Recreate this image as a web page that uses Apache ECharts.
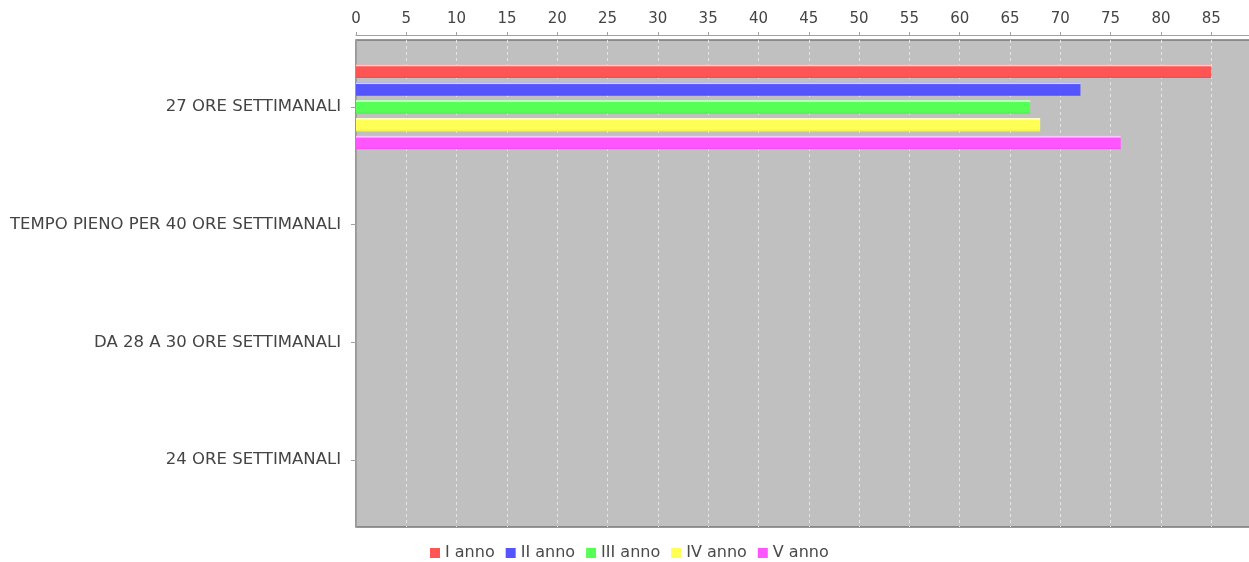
<!DOCTYPE html>
<html>
<head>
<meta charset="utf-8">
<script src="https://cdn.jsdelivr.net/npm/echarts@6/dist/echarts.min.js"></script>
<style>
  html, body { margin: 0; padding: 0; background: #ffffff; }
  #chart { width: 1249px; height: 562px; }
</style>
</head>
<body>
<div id="chart"></div>
<script>
// Categories (top to bottom) and values per school year
const categories = [
  '27 ORE SETTIMANALI',
  'TEMPO PIENO PER 40 ORE SETTIMANALI',
  'DA 28 A 30 ORE SETTIMANALI',
  '24 ORE SETTIMANALI'
];
const seriesNames = ['I anno', 'II anno', 'III anno', 'IV anno', 'V anno'];
const annoI   = [85, 0, 0, 0];
const annoII  = [72, 0, 0, 0];
const annoIII = [67, 0, 0, 0];
const annoIV  = [68, 0, 0, 0];
const annoV   = [76, 0, 0, 0];
const seriesValues = [annoI, annoII, annoIII, annoIV, annoV];
const colors = ['#ff5555', '#5555ff', '#55ff55', '#ffff55', '#ff55ff'];

const axisMax = 89.25;
const fontFamily = 'DejaVu Sans';

function lighten(hex, t) {
  const n = parseInt(hex.slice(1), 16);
  const r = (n >> 16) & 255, g = (n >> 8) & 255, b = n & 255;
  const f = c => Math.round(c + (255 - c) * t);
  return 'rgb(' + f(r) + ',' + f(g) + ',' + f(b) + ')';
}
function darken(hex, t) {
  const n = parseInt(hex.slice(1), 16);
  const r = (n >> 16) & 255, g = (n >> 8) & 255, b = n & 255;
  const f = c => Math.round(c * (1 - t));
  return 'rgb(' + f(r) + ',' + f(g) + ',' + f(b) + ')';
}
// vertical shading: pale highlight along the top edge, flat colour below
function barGradient(hex) {
  return {
    type: 'linear', x: 0, y: 0, x2: 0, y2: 1,
    colorStops: [
      { offset: 0, color: lighten(hex, 0.5) },
      { offset: 0.1, color: lighten(hex, 0.75) },
      { offset: 0.17, color: hex },
      { offset: 0.8, color: hex },
      { offset: 1, color: darken(hex, 0.06) }
    ]
  };
}

const chart = echarts.init(document.getElementById('chart'), null, { renderer: 'canvas' });

// the plot runs slightly past the right edge of the canvas
const plotWidth = 898;

const option = {
  animation: false,
  backgroundColor: '#ffffff',
  grid: [
    // plot frame: grey background, value axis and grid lines
    { left: 356, width: plotWidth, top: 40, bottom: 35, show: true, outerBoundsMode: 'none',
      backgroundColor: '#c0c0c0', borderColor: '#777777', borderWidth: 1.5 },
    // bar area, inset by the category margins
    { left: 356, width: plotWidth, top: 48, bottom: 43, outerBoundsMode: 'none' }
  ],
  xAxis: [
    {
      gridIndex: 0, type: 'value', position: 'top', offset: 5,
      min: 0, max: axisMax, interval: 5,
      axisLine: { show: true, lineStyle: { color: '#a0a0a0', width: 1 } },
      axisTick: { show: true, length: 3, lineStyle: { color: '#a0a0a0' } },
      axisLabel: { show: true, showMaxLabel: false, color: '#444444', fontSize: 15,
        fontFamily: fontFamily, margin: 8 },
      splitLine: { show: true, showMaxLine: false,
        lineStyle: { color: '#e4e4e4', type: [3, 3], width: 1 } }
    },
    {
      gridIndex: 1, type: 'value', min: 0, max: axisMax, show: false,
      splitLine: { show: false }
    }
  ],
  yAxis: [
    {
      gridIndex: 0, type: 'category', data: categories, inverse: true, offset: 5,
      axisLine: { show: true, lineStyle: { color: '#a0a0a0', width: 1 } },
      axisTick: { show: false }, axisLabel: { show: false }, splitLine: { show: false }
    },
    {
      gridIndex: 1, type: 'category', data: categories, inverse: true, offset: 5,
      axisLine: { show: false },
      axisTick: { show: true, alignWithLabel: true, length: 5, lineStyle: { color: '#a0a0a0' } },
      axisLabel: { color: '#444444', fontSize: 16.5, fontFamily: fontFamily, margin: 10 },
      splitLine: { show: false }
    }
  ],
  legend: {
    top: 545, left: 430, padding: 0,
    icon: 'rect', itemWidth: 10, itemHeight: 10, itemGap: 11,
    textStyle: { color: '#4a4a4a', fontSize: 16, fontFamily: fontFamily },
    data: seriesNames.map((n, i) => ({ name: n, itemStyle: { color: colors[i] } }))
  },
  series: seriesNames.map((name, i) => ({
    name: name,
    type: 'bar',
    xAxisIndex: 1, yAxisIndex: 1,
    data: seriesValues[i],
    barWidth: 13.6,
    barGap: '31%',
    itemStyle: { color: barGradient(colors[i]) },
    emphasis: { disabled: true }
  })),
  color: colors
};

chart.setOption(option);
</script>
</body>
</html>
